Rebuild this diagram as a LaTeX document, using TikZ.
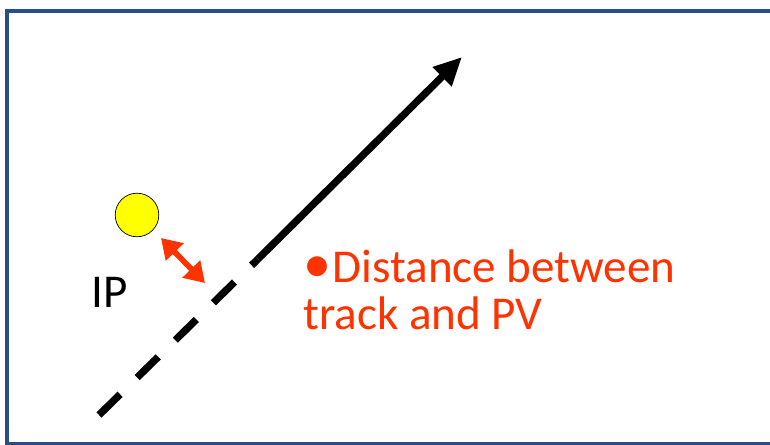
\documentclass[tikz,border=0pt]{standalone}
\usepackage{fontspec}
\setmainfont{Carlito}
\usepackage{xcolor}
\usepackage{tikz}
\usetikzlibrary{arrows.meta, positioning}

\definecolor{framblue}{RGB}{40,78,135}
\definecolor{ipred}{RGB}{255,51,0}
\definecolor{ipyellow}{RGB}{255,255,0}

\begin{document}
\begin{tikzpicture}[
  x=0.025cm, y=-0.025cm,
  frame/.style={draw=framblue, line width=2.8pt},
  vertex/.style={circle, draw=black, line width=0.5pt, fill=ipyellow,
    minimum size=31pt, inner sep=0pt},
  track/.style={line width=5.2pt, black},
  trackdash/.style={track, dash pattern=on 21pt off 17pt},
  ipdist/.style={{Triangle[length=14pt,width=17pt]}-{Triangle[length=14pt,width=17pt]},
    line width=4pt, ipred},
  lbl/.style={font=\fontsize{33.5}{33}\selectfont, inner sep=0pt}
]
  \useasboundingbox (0,0) rectangle (770,445);
  \clip (0,0) rectangle (770,445);
  \draw[frame] (7,11) rectangle (790,444);

  % track: dashed near the IP, solid further out
  \coordinate (trackstart) at (99,415);
  \coordinate (trackmid) at (258,259);
  \coordinate (trackend) at (462,57);
  \draw[trackdash] (trackstart) -- (trackmid);
  \draw[track, -{Triangle[length=20pt,width=18pt]}] (trackmid) -- (trackend);

  \node[vertex] (ip) at (137,215) {};
  \node[lbl, anchor=base west] (iplabel) at (91,308) {IP};

  \coordinate (ipside) at (161,238);
  \coordinate (trackside) at (205,283);
  \draw[ipdist] (ipside) -- (trackside);

  \node[lbl, ipred, anchor=north west, align=left] (distlabel) at (303,250)
    {{\fontsize{40}{33}\selectfont\textbullet}\kern1pt Distance between\\track and PV};
\end{tikzpicture}
\end{document}
